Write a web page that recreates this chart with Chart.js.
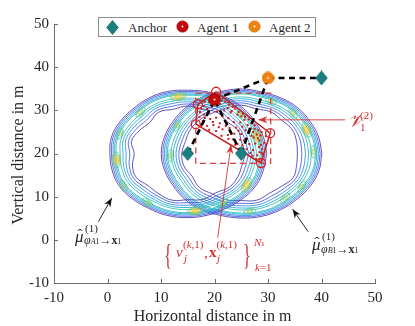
<!DOCTYPE html>
<html><head><meta charset="utf-8">
<script src="https://cdn.jsdelivr.net/npm/chart.js@4/dist/chart.umd.min.js"></script>
<style>
html,body{margin:0;padding:0;background:#fff;}
#wrap{position:relative;width:415px;height:326px;overflow:hidden;font-family:'Liberation Serif','Times New Roman',serif;color:#262626;}
#c{position:absolute;left:0;top:0;}
.t{position:absolute;white-space:nowrap;line-height:1;}
.r{color:#d23232;}
.i{font-style:italic;}
.lg{position:absolute;left:98px;top:17px;width:216px;height:18px;border:1px solid #8c8c8c;background:#fff;}
</style></head><body>
<div id="wrap">
<canvas id="c" width="415" height="326"></canvas>

<div class="lg"></div>
<svg style="position:absolute;left:106px;top:20px" width="13" height="15"><polygon points="6.5,0.5 12.3,7.5 6.5,14.5 0.7,7.5" fill="#1a7f80" stroke="#126a6a" stroke-width="0.8"/></svg>
<div class="t" style="left:128px;top:20.5px;font-size:13px;">Anchor</div>
<svg style="position:absolute;left:176px;top:20px" width="13" height="13"><circle cx="6.5" cy="6.5" r="5.6" fill="#c40808" stroke="#a00000" stroke-width="0.8"/><circle cx="6.5" cy="6.5" r="1" fill="#fff"/></svg>
<div class="t" style="left:197px;top:20.5px;font-size:13px;">Agent 1</div>
<svg style="position:absolute;left:248px;top:20px" width="13" height="13"><circle cx="6.5" cy="6.5" r="5.6" fill="#f0800f" stroke="#d86e00" stroke-width="0.8"/><circle cx="6.5" cy="6.5" r="1" fill="#fff"/></svg>
<div class="t" style="left:269px;top:20.5px;font-size:13px;">Agent 2</div>

<div class="t" style="left:-82.5px;top:147px;width:200px;text-align:center;font-size:16px;transform:rotate(-90deg);">Vertical distance in m</div>
<div class="t" style="left:112.5px;top:308px;width:200px;text-align:center;font-size:16px;">Horizontal distance in m</div>

<!-- V_1^(2) -->
<div class="t r i" style="left:348px;top:112px;font-size:18px;">𝒱</div>
<div class="t r" style="left:360px;top:109.5px;font-size:11px;">(2)</div>
<div class="t r" style="left:360px;top:122px;font-size:11px;">1</div>

<!-- particles label -->
<div class="t r" style="left:164px;top:239px;font-size:30px;transform:scaleX(0.55);transform-origin:left top;">{</div>
<div class="t r i" style="left:176px;top:245px;font-size:15px;">v</div>
<div class="t r" style="left:183px;top:238.8px;font-size:11px;">(<span class="i">k</span>,1)</div>
<div class="t r i" style="left:184px;top:253px;font-size:11px;">j</div>
<div class="t r" style="left:204px;top:246.4px;font-size:15px;">,</div>
<div class="t r" style="left:209px;top:245px;font-size:15px;font-weight:bold;">x</div>
<div class="t r" style="left:216.5px;top:238.8px;font-size:11px;">(<span class="i">k</span>,1)</div>
<div class="t r i" style="left:217px;top:253px;font-size:11px;">j</div>
<div class="t r" style="left:243px;top:239px;font-size:30px;transform:scaleX(0.55);transform-origin:left top;">}</div>
<div class="t r i" style="left:254px;top:236.8px;font-size:11px;">N<span style="font-size:7.5px;">s</span></div>
<div class="t r" style="left:255px;top:261.8px;font-size:11px;"><span class="i">k</span>=1</div>

<!-- mu A1 -->
<div class="t i" style="left:75px;top:228px;font-size:17px;">μ</div>
<div class="t" style="left:77.5px;top:227px;font-size:15px;">ˆ</div>
<div class="t" style="left:85px;top:222.5px;font-size:11px;">(1)</div>
<div class="t" style="left:84px;top:234px;font-size:12px;"><span class="i">φ</span><span class="i" style="font-size:8px;">A</span><span style="font-size:8px;">1</span>→<b>x</b><span style="font-size:8px;">1</span></div>
<!-- mu B1 -->
<div class="t i" style="left:312px;top:236px;font-size:17px;">μ</div>
<div class="t" style="left:314.5px;top:235px;font-size:15px;">ˆ</div>
<div class="t" style="left:322px;top:230.8px;font-size:11px;">(1)</div>
<div class="t" style="left:321px;top:242.5px;font-size:12px;"><span class="i">φ</span><span class="i" style="font-size:8px;">B</span><span style="font-size:8px;">1</span>→<b>x</b><span style="font-size:8px;">1</span></div>
</div>

<script>
// ---------- data ----------
const tickValues = [-10, 0, 10, 20, 30, 40, 50];
const anchorX = [15, 25, 40];
const anchorY = [20, 20, 37.5];
const agent1X = [20];
const agent1Y = [32.5];
const agent2X = [30];
const agent2Y = [37.5];
// dashed measurement links
const linkX1 = [30, 20, 15, 25, 25];
const linkY1 = [37.5, 32.5, 20, 20, 20];
const linkX2 = [40, 30, 20, 20, 30];
const linkY2 = [37.5, 37.5, 32.5, 32.5, 37.5];
// bounding box (red dashed)
const boxX = [16.5, 30.5, 30.5, 16.5, 16.5];
const boxY = [34.0, 34.0, 17.7, 17.7, 34.0];
// particle hull V_1^(2)
const hullX = [20.3, 30.4, 28.7, 16.5, 16.9, 20.3];
const hullY = [34.3, 24.7, 17.8, 26.8, 31.4, 34.3];
// particles
const particleX = [20.0,20.8,21.5,19.0,18.0,17.5,19.5,21.0,22.0,22.7,
23.4,23.0,21.8,20.5,19.0,18.0,17.2,17.8,19.2,20.3,
21.5,22.6,24.3,25.0,25.6,24.8,23.6,22.3,21.0,19.8,
18.6,17.5,19.0,20.3,21.5,22.8,24.0,25.2,26.2,26.8,
27.2,26.3,25.0,23.7,22.5,21.3,23.5,24.8,26.0,27.3,
27.9,28.4,27.6,26.5,25.2,24.3,26.0,27.2,28.3,28.8,
28.0,27.1,28.4,29.3,29.6,28.8,27.5,26.4,25.3,23.8,
22.6,22.5,23.2,24.5,25.7,26.9,27.5,28.2,28.6,28.1,
28.7,28.9,28.4,29.0,18.2,17.3,18.6,20.1,21.2,19.7,
18.2,20.8,22.1,23.0,24.5,25.8,26.9,25.5,22.6,23.9,
26.7,27.8,21.3,19.3];
const particleY = [33.5,33.0,32.8,32.0,31.0,30.5,30.8,31.5,32.0,31.3,
30.8,29.5,30.0,29.7,29.5,29.0,28.5,27.5,28.0,28.3,
28.6,28.2,29.0,28.6,27.8,27.2,27.3,27.0,27.0,26.6,
26.4,26.4,25.5,25.2,25.6,25.9,26.0,26.2,26.6,25.8,
25.0,24.8,24.5,24.6,24.3,24.1,23.3,23.2,23.5,23.7,
24.4,23.0,22.3,22.2,21.9,22.2,21.0,20.8,21.5,20.2,
19.6,19.5,18.6,22.5,24.0,25.0,26.5,27.9,29.2,30.4,
31.9,30.5,29.8,29.6,28.5,27.0,25.7,25.4,24.2,23.5,
22.0,21.0,20.3,19.9,32.0,29.6,30.3,31.6,29.2,27.3,
28.2,26.1,26.4,25.1,25.3,25.4,24.1,23.0,23.4,22.0,
20.1,18.7,32.2,33.0];
// message rings (contours), radii sampled every 15 degrees
const ringCenterX = [15, 25];
const ringCenterY = [20, 20];
const ringRadius = [13.3, 13.5];
const outerOffset = [1.35, 1.05, 0.75, 0.45, 0.2];
const innerOffset = [-2.6, -2.0, -1.45, -0.95, -0.5];
const ringWobbleA = [0.1,0.0,-0.1,0.1,0.2,0.1,0.0,0.2,0.1,-0.1,0.0,0.1,-0.1,0.0,0.2,0.1,0.0,0.2,0.2,0.1,-0.1,0.0,0.1,0.0];
const ringWobbleB = [0.2,0.1,0.0,0.1,0.0,-0.1,0.1,0.0,0.1,0.0,-0.1,0.0,0.1,0.0,-0.1,0.1,0.2,0.0,0.1,0.2,0.1,0.0,0.1,0.2];
const innerWobbleA = [0.0,-0.3,0.2,-0.4,0.1,-0.2,0.3,-0.3,0.2,-0.5,-0.2,0.1,-0.6,0.0,0.2,-0.3,0.1,0.3,-0.2,0.2,-0.1,0.3,0.0,-0.2];
const innerWobbleB = [-0.6,-0.3,0.1,-0.2,0.2,-0.1,0.2,0.0,-0.2,0.1,0.2,-0.1,0.1,0.2,-0.2,0.1,-0.3,0.2,-0.1,0.1,-0.4,-0.2,0.2,-0.4];
// hot spots of the contours
const spotX = [13.2,6.2,2.3,1.7,3.0,7.5,16.4,21.6,26.0,28.0,25.0,34.7,37.2,38.5,36.3,33.2,26.6,11.8,13.0,30.5];
const spotY = [33.2,29.6,24.7,18.5,12.5,8.6,6.7,8.5,12.7,23.9,29.0,29.4,25.5,20.4,12.3,9.7,6.6,19.5,26.5,32.2];
const spotRing = [0,0,0,0,0,0,0,0,0,0,0,1,1,1,1,1,1,1,1,1];
const spotHot = [1,0,0,1,0,0,1,0,1,1,0,0,1,0,0,0,0,0,0,0];
// annotation arrows (tail -> tip)
const arrowTailX = [44.4, 20.6, -1.7, 37.5];
const arrowTailY = [27.8, 0.5, 4.2, 1.9];
const arrowTipX = [28.2, 23.1, 0.8, 34.6];
const arrowTipY = [27.8, 22.0, 9.7, 7.1];

// ---------- styles ----------
const contourColors = ['#4536a8', '#3d58e0', '#2a86e6', '#1ca8d6', '#26bdb0'];
const arrowColors = ['#d23232', '#d23232', '#111111', '#111111'];
const FONT = "'Liberation Serif','Times New Roman',serif";

function mkCanvas(w, h, fn) { const c = document.createElement('canvas'); c.width = w; c.height = h; fn(c.getContext('2d')); return c; }
const diamondImg = mkCanvas(13, 15, g => {
  g.beginPath(); g.moveTo(6.5, 0.5); g.lineTo(12.3, 7.5); g.lineTo(6.5, 14.5); g.lineTo(0.7, 7.5); g.closePath();
  g.fillStyle = '#1a7f80'; g.fill(); g.strokeStyle = '#126a6a'; g.lineWidth = 0.8; g.stroke();
});
function agentImg(fill, stroke) {
  return mkCanvas(13, 13, g => {
    g.beginPath(); g.arc(6.5, 6.5, 5.8, 0, 2 * Math.PI); g.fillStyle = fill; g.fill();
    g.strokeStyle = stroke; g.lineWidth = 0.8; g.stroke();
    g.beginPath(); g.arc(6.5, 6.5, 1, 0, 2 * Math.PI); g.fillStyle = '#fff'; g.fill();
  });
}
const agent1Img = agentImg('#c40808', '#a00000');
const agent2Img = agentImg('#f0800f', '#d86e00');
function ell(g, cx, cy, rx, ry, col, w) { g.beginPath(); g.ellipse(cx, cy, rx, ry, 0, 0, 2 * Math.PI); g.strokeStyle = col; g.lineWidth = w; g.stroke(); }
const hotImg = mkCanvas(18, 10, g => { ell(g, 9, 5, 8, 3.8, '#62c48a', 1); ell(g, 9, 5, 5.5, 2.4, '#b9c84a', 1); ell(g, 9, 5, 3, 1.2, '#f8c830', 1.3); });
const warmImg = mkCanvas(14, 8, g => { ell(g, 7, 4, 6, 2.8, '#4cc2a0', 1); ell(g, 7, 4, 3, 1.2, '#9cc85a', 1); });

function ringLoop(k, off, extra, f) {
  const wob = k === 0 ? ringWobbleA : ringWobbleB;
  const n = wob.length, pts = [];
  for (let i = 0; i <= n; i++) {
    const j = i % n, th = 2 * Math.PI * j / n;
    const r = ringRadius[k] + wob[j] + off + (extra ? extra[j] * f : 0);
    pts.push({ x: ringCenterX[k] + r * Math.cos(th), y: ringCenterY[k] + r * Math.sin(th) });
  }
  return pts;
}
const zip = (xs, ys) => xs.map((v, i) => ({ x: v, y: ys[i] }));

const datasets = [];
const innerFactor = [1, 0.6, 0.4, 0.25, 0.1];
for (let k = 0; k < 2; k++) {
  for (let l = 0; l < outerOffset.length; l++) {
    const base = { showLine: true, borderColor: contourColors[l], borderWidth: 0.85, pointRadius: 0, tension: 0.4, fill: false, order: 100 };
    datasets.push(Object.assign({ data: ringLoop(k, outerOffset[l], null, 0) }, base));
    datasets.push(Object.assign({ data: ringLoop(k, innerOffset[l], k === 0 ? innerWobbleA : innerWobbleB, innerFactor[l]) }, base));
  }
}
datasets.push({
  data: zip(spotX, spotY), order: 95, showLine: false,
  pointStyle: ctx => spotHot[ctx.dataIndex] ? hotImg : warmImg,
  pointRotation: ctx => {
    const i = ctx.dataIndex, k = spotRing[i], sx = ctx.chart.scales.x, sy = ctx.chart.scales.y;
    const dx = sx.getPixelForValue(spotX[i]) - sx.getPixelForValue(ringCenterX[k]);
    const dy = sy.getPixelForValue(spotY[i]) - sy.getPixelForValue(ringCenterY[k]);
    return Math.atan2(dy, dx) * 180 / Math.PI + 90;
  }
});
datasets.push({ data: zip(particleX, particleY), order: 60, showLine: false, pointStyle: 'rect', pointRadius: 1.4, pointBackgroundColor: '#c81818', pointBorderWidth: 0 });
datasets.push({ data: zip(hullX, hullY), order: 50, showLine: true, borderColor: '#c81e1e', borderWidth: 1.5, tension: 0,
  pointRadius: ctx => ctx.dataIndex < hullX.length - 1 ? 4.5 : 0, pointBorderColor: '#d02020', pointBackgroundColor: 'rgba(0,0,0,0)', pointBorderWidth: 1.3 });
datasets.push({ data: zip(boxX, boxY), order: 45, showLine: true, borderColor: '#d84040', borderWidth: 1.3, borderDash: [6, 4], pointRadius: 0, tension: 0 });
for (let i = 0; i < linkX1.length; i++) {
  datasets.push({ data: [{ x: linkX1[i], y: linkY1[i] }, { x: linkX2[i], y: linkY2[i] }], order: 40, showLine: true,
    borderColor: '#000', borderWidth: 2.6, borderDash: [6, 4.5], pointRadius: 0 });
}
for (let i = 0; i < arrowTailX.length; i++) {
  datasets.push({ data: [{ x: arrowTailX[i], y: arrowTailY[i] }, { x: arrowTipX[i], y: arrowTipY[i] }], order: 30, showLine: true,
    borderColor: arrowColors[i], borderWidth: 0.9, pointRadius: 0 });
}
datasets.push({ data: zip(anchorX, anchorY), order: 10, pointStyle: diamondImg, pointRadius: 7 });
datasets.push({ data: zip(agent2X, agent2Y), order: 10, pointStyle: agent2Img, pointRadius: 6 });
datasets.push({ data: zip(agent1X, agent1Y), order: 9, pointStyle: agent1Img, pointRadius: 6 });

const extras = {
  id: 'extras',
  afterDraw(chart) {
    const { ctx, chartArea: a, scales: { x, y } } = chart;
    ctx.save();
    ctx.strokeStyle = '#6e6e6e'; ctx.lineWidth = 1;
    tickValues.forEach(v => {
      const px = Math.round(x.getPixelForValue(v)) + 0.5;
      ctx.beginPath(); ctx.moveTo(px, a.bottom); ctx.lineTo(px, a.bottom - 4); ctx.stroke();
      const py = Math.round(y.getPixelForValue(v)) + 0.5;
      ctx.beginPath(); ctx.moveTo(a.left, py); ctx.lineTo(a.left + 4, py); ctx.stroke();
    });
    for (let i = 0; i < arrowTipX.length; i++) {
      const tx = x.getPixelForValue(arrowTipX[i]), ty = y.getPixelForValue(arrowTipY[i]);
      const sx = x.getPixelForValue(arrowTailX[i]), sy = y.getPixelForValue(arrowTailY[i]);
      const ang = Math.atan2(ty - sy, tx - sx);
      const L = 9, W = 7;
      ctx.save(); ctx.translate(tx, ty); ctx.rotate(ang);
      ctx.beginPath(); ctx.moveTo(0, 0); ctx.lineTo(-L, W / 2); ctx.lineTo(-L * 0.7, 0); ctx.lineTo(-L, -W / 2); ctx.closePath();
      ctx.fillStyle = arrowColors[i]; ctx.fill(); ctx.restore();
    }
    ctx.restore();
  }
};

new Chart(document.getElementById('c'), {
  type: 'scatter',
  data: { datasets },
  options: {
    responsive: false, animation: false, events: [],
    layout: { padding: { left: 0, right: 40, top: 24, bottom: 0 } },
    plugins: { legend: { display: false }, tooltip: { enabled: false } },
    scales: {
      x: {
        type: 'linear', min: -10, max: 50,
        afterFit: s => { s.height = 43; },
        afterBuildTicks: s => { s.ticks = tickValues.map(v => ({ value: v })); },
        grid: { display: false, drawTicks: false },
        border: { display: true, color: '#6e6e6e', width: 1 },
        ticks: { padding: 6, maxRotation: 0, autoSkip: false, color: '#262626', font: { family: FONT, size: 15 } }
      },
      y: {
        type: 'linear', min: -10, max: 50,
        afterFit: s => { s.width = 54; },
        afterBuildTicks: s => { s.ticks = tickValues.map(v => ({ value: v })); },
        grid: { display: false, drawTicks: false },
        border: { display: true, color: '#6e6e6e', width: 1 },
        ticks: { padding: 5, autoSkip: false, color: '#262626', font: { family: FONT, size: 15 } }
      }
    }
  },
  plugins: [extras]
});
</script>
</body></html>
